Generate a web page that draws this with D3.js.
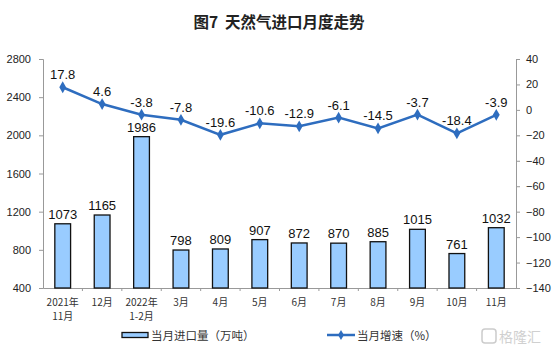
<!DOCTYPE html>
<html>
<head>
<meta charset="utf-8">
<script src="https://cdn.jsdelivr.net/npm/d3@7"></script>
<style>
  body { margin: 0; background: #fff; }
  text { font-family: "Liberation Sans", Arial, sans-serif; }
  .cjk { font-family: "Noto Sans CJK SC", sans-serif; }
</style>
</head>
<body>
<div id="chart"></div>
<script>
const months = ["2021年\n11月", "12月", "2022年\n1-2月", "3月", "4月", "5月", "6月", "7月", "8月", "9月", "10月", "11月"]
const imports = [1073, 1165, 1986, 798, 809, 907, 872, 870, 885, 1015, 761, 1032]
const growth = [17.8, 4.6, -3.8, -7.8, -19.6, -10.6, -12.9, -6.1, -14.5, -3.7, -18.4, -3.9]
const leftTicks = [400, 800, 1200, 1600, 2000, 2400, 2800]
const rightTicks = [40, 20, 0, -20, -40, -60, -80, -100, -120, -140]

const W = 554, H = 353
const margin = {top: 59, right: 38, bottom: 65, left: 43}
const width = W - margin.left - margin.right
const height = H - margin.top - margin.bottom

const svg = d3.select("#chart").append("svg")
    .attr("width", W)
    .attr("height", H)

const g = svg.append("g")
    .attr("transform", `translate(${margin.left},${margin.top})`)

// title
svg.append("text")
    .attr("class", "cjk")
    .attr("x", 279)
    .attr("y", 28)
    .attr("text-anchor", "middle")
    .attr("font-size", 15.5)
    .attr("font-weight", "bold")
    .attr("fill", "#222")
    .text("图7\u00a0\u00a0天然气进口月度走势")

const x = d3.scaleBand()
    .domain(months)
    .range([0, width])
    .paddingInner(0.6)
    .paddingOuter(0.3)

const yL = d3.scaleLinear().domain([400, 2800]).range([height, 0])
const yR = d3.scaleLinear().domain([-140, 40]).range([height, 0])

// left axis
const leftAxis = g.append("g")
    .call(d3.axisLeft(yL).tickValues(leftTicks).tickSize(4).tickFormat(d3.format("d")))
leftAxis.select(".domain").attr("stroke", "#999")
leftAxis.selectAll(".tick line").attr("stroke", "#999")
leftAxis.selectAll("text").attr("font-size", 11).attr("fill", "#222").attr("x", -12)

// right axis
const rightAxis = g.append("g")
    .attr("transform", `translate(${width},0)`)
    .call(d3.axisRight(yR).tickValues(rightTicks).tickSize(4))
rightAxis.select(".domain").attr("stroke", "#999")
rightAxis.selectAll(".tick line").attr("stroke", "#999")
rightAxis.selectAll("text").attr("font-size", 11).attr("fill", "#222").attr("x", 10)

// x axis
const xAxis = g.append("g")
    .attr("transform", `translate(0,${height})`)
    .call(d3.axisBottom(x).tickSize(0).tickFormat(""))
xAxis.select(".domain").attr("stroke", "#999")

// small tick marks between categories
g.selectAll(".sep")
    .data(d3.range(1, months.length))
    .enter()
    .append("line")
    .attr("x1", d => d * width / months.length)
    .attr("x2", d => d * width / months.length)
    .attr("y1", height)
    .attr("y2", height + 3)
    .attr("stroke", "#999")

const xLabels = g.selectAll(".xlab")
    .data(months)
    .enter()
    .append("text")
    .attr("class", "cjk")
    .attr("text-anchor", "middle")
    .attr("font-size", 10)
    .attr("fill", "#333")
    .attr("transform", d => `translate(${x(d) + x.bandwidth() / 2},${height + 18})`)
xLabels.each(function(d) {
    const parts = d.split("\n")
    d3.select(this).selectAll("tspan")
        .data(parts)
        .enter()
        .append("tspan")
        .attr("x", 0)
        .attr("dy", (p, i) => i === 0 ? 0 : 14)
        .text(p => p)
})

// bars
g.selectAll(".bar")
    .data(imports)
    .enter()
    .append("rect")
    .attr("x", (d, i) => x(months[i]))
    .attr("y", d => yL(d))
    .attr("width", x.bandwidth())
    .attr("height", d => height - yL(d))
    .attr("fill", "#99CCFF")
    .attr("stroke", "#111")
    .attr("stroke-width", 1.3)

g.selectAll(".barlab")
    .data(imports)
    .enter()
    .append("text")
    .attr("x", (d, i) => x(months[i]) + x.bandwidth() / 2)
    .attr("y", d => yL(d) - 5)
    .attr("text-anchor", "middle")
    .attr("font-size", 13)
    .attr("fill", "#111")
    .text(d => d)

// line
const lineColor = "#2E6DBF"
const cx = i => x(months[i]) + x.bandwidth() / 2
const line = d3.line()
    .x((d, i) => cx(i))
    .y(d => yR(d))

g.append("path")
    .datum(growth)
    .attr("d", line)
    .attr("fill", "none")
    .attr("stroke", lineColor)
    .attr("stroke-width", 2.5)

g.selectAll(".pt")
    .data(growth)
    .enter()
    .append("path")
    .attr("d", d3.symbol().type(d3.symbolDiamond).size(40))
    .attr("transform", (d, i) => `translate(${cx(i)},${yR(d)})`)
    .attr("fill", lineColor)

g.selectAll(".ptlab")
    .data(growth)
    .enter()
    .append("text")
    .attr("x", (d, i) => cx(i))
    .attr("y", d => yR(d) - 8)
    .attr("text-anchor", "middle")
    .attr("font-size", 13)
    .attr("fill", "#111")
    .text(d => d)

// legend
const leg = svg.append("g").attr("transform", "translate(0,335)")
leg.append("rect")
    .attr("x", 122).attr("y", -2.5)
    .attr("width", 26).attr("height", 5)
    .attr("fill", "#99CCFF").attr("stroke", "#111").attr("stroke-width", 1.3)
leg.append("text")
    .attr("class", "cjk")
    .attr("x", 151).attr("y", 4.5)
    .attr("font-size", 11.5).attr("fill", "#333")
    .text("当月进口量（万吨）")
leg.append("line")
    .attr("x1", 327).attr("x2", 355).attr("y1", 0).attr("y2", 0)
    .attr("stroke", lineColor).attr("stroke-width", 2.5)
leg.append("path")
    .attr("d", d3.symbol().type(d3.symbolDiamond).size(30))
    .attr("transform", "translate(341,0)")
    .attr("fill", lineColor)
leg.append("text")
    .attr("class", "cjk")
    .attr("x", 357).attr("y", 4.5)
    .attr("font-size", 11.5).attr("fill", "#333")
    .text("当月增速（%）")

// watermark
const wm = svg.append("g").attr("transform", "translate(482,337)")
wm.append("rect")
    .attr("x", 0).attr("y", -8).attr("width", 14).attr("height", 14).attr("rx", 3)
    .attr("fill", "none").attr("stroke", "#ccc").attr("stroke-width", 1.5)
wm.append("text")
    .attr("class", "cjk")
    .attr("x", 17).attr("y", 5)
    .attr("font-size", 14).attr("fill", "#d0d0d0")
    .text("格隆汇")
</script>
</body>
</html>
